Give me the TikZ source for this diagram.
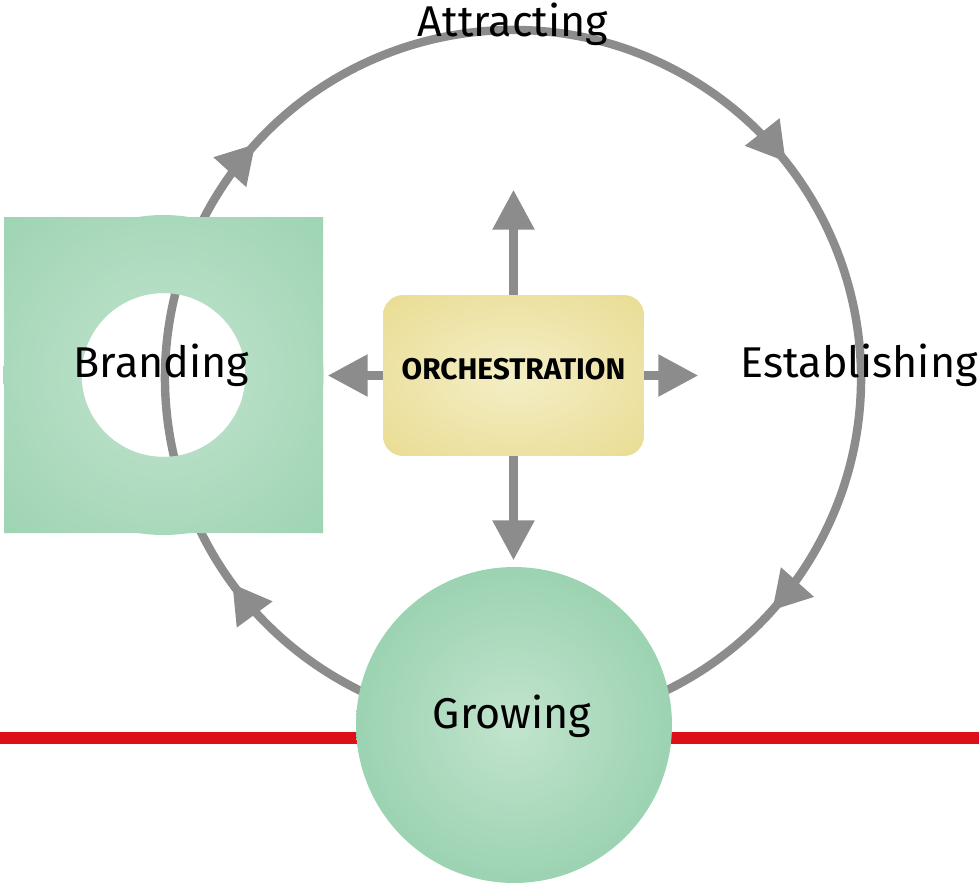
\documentclass[tikz,border=0pt]{standalone}
\usepackage{fontspec}
\setmainfont{Fira Sans}
\usetikzlibrary{arrows.meta}
\usetikzlibrary{decorations.markings}
\usetikzlibrary{positioning}
\definecolor{loopgray}{HTML}{8C8C8C}
\definecolor{mintin}{HTML}{C2E4CE}
\definecolor{mintout}{HTML}{8FCDA8}
\definecolor{sandin}{HTML}{F4EEC6}
\definecolor{sandout}{HTML}{E5D57E}
\definecolor{linered}{HTML}{DC1017}
\pgfdeclareradialshading{mint}{\pgfpoint{0bp}{0bp}}{color(0bp)=(mintin); color(50bp)=(mintout)}
\pgfdeclareradialshading{mintball}{\pgfpoint{0bp}{0bp}}{color(0bp)=(mintin); color(33bp)=(mintout); color(50bp)=(mintout)}
\pgfdeclareradialshading{sand}{\pgfpoint{0bp}{0bp}}{color(0bp)=(sandin); color(50bp)=(sandout)}
\tikzset{cycleline/.style = {draw, color = loopgray, line width = 4.8pt,
                             decoration={markings,
                                         mark=at position 0.066 with {\arrow{Triangle[length=0.76cm, width=0.84cm]}},
                                         mark=at position 0.284 with {\arrow{Triangle[length=0.76cm, width=0.84cm]}},
                                         mark=at position 0.560 with {\arrow{Triangle[length=0.76cm, width=0.84cm]}},
                                         mark=at position 0.783 with {\arrow{Triangle[length=0.76cm, width=0.84cm]}}},
                             postaction={decorate}}}
\tikzset{spoke/.style = {draw = loopgray, line width = 5pt, -{Triangle[length=0.8cm, width=0.8cm]}}}
\tikzset{ball/.style = {circle, shade, shading = mintball, inner sep = 0, minimum size = 6.32cm}}
\tikzset{panel/.style = {rectangle, rounded corners = 0.4cm, shade, shading = sand,
                         minimum width = 5.22cm, minimum height = 3.22cm, text depth = 0.28cm,
                         font = \bfseries\fontsize{17}{19}\selectfont}}
\tikzset{tag/.style = {inner sep = 0, font = \fontsize{24.5}{28}\selectfont}}

\begin{document}
\begin{tikzpicture}[x = 0.02cm, y = -0.02cm]
    \useasboundingbox (0, 0) rectangle (979, 883);
    \coordinate (hub) at (513, 378);

    \draw [color = linered, line width = 7.2pt] (0, 738) -- (979, 738);
    \draw [cycleline] (hub) ++(-240:348) arc [start angle = -240, end angle = 120, radius = 348];

    % branding block with its hole
    \shade [shading = mint, even odd rule] (163.5, 375) circle [radius = 160] (163.5, 375) circle [radius = 82];
    \shade [shading = mint, even odd rule] (4, 217) rectangle (323, 533) (163.5, 375) circle [radius = 82];

    \node [ball] (grow) at (514, 725) {};
    \node [panel] (orch) at (513.5, 375.5) {ORCHESTRATION};

    \coordinate [above = 2.1cm of orch.north] (upTip);
    \coordinate [below = 2.08cm of orch.south] (downTip);
    \coordinate [left = 1.1cm of orch.west] (leftTip);
    \coordinate [right = 1.08cm of orch.east] (rightTip);
    \draw [spoke] (orch.north) -- (upTip);
    \draw [spoke] (orch.south) -- (downTip);
    \draw [spoke] (orch.west) -- (leftTip);
    \draw [spoke] (orch.east) -- (rightTip);

    \node [tag, anchor = base] (attract) at (513, 36) {Attracting};
    \node [tag, anchor = base] (brand) at (161.5, 377) {Branding};
    \node [tag, anchor = base east] (establish) at (978, 377) {Establishing};
    \node [tag, anchor = base] (growing) at (512, 728) {Growing};
\end{tikzpicture}
\end{document}
